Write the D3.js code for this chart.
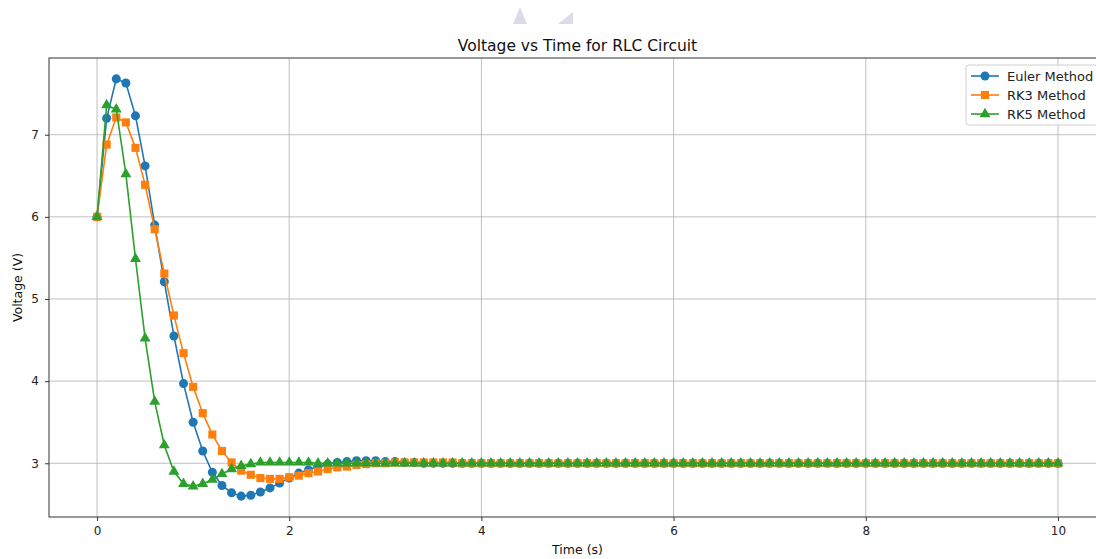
<!DOCTYPE html>
<html lang="en">
<head>
<meta charset="utf-8">
<script src="https://cdn.jsdelivr.net/npm/d3@7"></script>
<style>
  body { margin:0; padding:0; background:#fff; }
  svg { display:block; font-family:"DejaVu Sans", sans-serif; }
</style>
</head>
<body>
<div id="chart"></div>
<script>
// time steps 0 .. 10 s, dt = 0.1
var time = d3.range(0, 101).map(function(i){ return i / 10; });

var eulerV = [
  6.00,7.20,7.68,7.63,7.23,6.62,5.90,5.21,4.55,3.97,
  3.50,3.15,2.89,2.73,2.64,2.60,2.61,2.65,2.70,2.76,
  2.82,2.88,2.92,2.96,2.99,3.01,3.02,3.03,3.03,3.03,
  3.02,3.02,3.01,3.01,3.00,3.00,3.00,3.00,3.00,3.00,
  3.00,3.00,3.00,3.00,3.00,3.00,3.00,3.00,3.00,3.00,
  3.00,3.00,3.00,3.00,3.00,3.00,3.00,3.00,3.00,3.00,
  3.00,3.00,3.00,3.00,3.00,3.00,3.00,3.00,3.00,3.00,
  3.00,3.00,3.00,3.00,3.00,3.00,3.00,3.00,3.00,3.00,
  3.00,3.00,3.00,3.00,3.00,3.00,3.00,3.00,3.00,3.00,
  3.00,3.00,3.00,3.00,3.00,3.00,3.00,3.00,3.00,3.00,
  3.00
];
var rk3V = [
  6.00,6.88,7.21,7.15,6.84,6.39,5.85,5.31,4.80,4.34,
  3.93,3.61,3.35,3.15,3.01,2.91,2.86,2.82,2.81,2.81,
  2.83,2.85,2.88,2.90,2.93,2.95,2.96,2.98,2.99,3.00,
  3.00,3.01,3.01,3.01,3.01,3.01,3.01,3.01,3.00,3.00,
  3.00,3.00,3.00,3.00,3.00,3.00,3.00,3.00,3.00,3.00,
  3.00,3.00,3.00,3.00,3.00,3.00,3.00,3.00,3.00,3.00,
  3.00,3.00,3.00,3.00,3.00,3.00,3.00,3.00,3.00,3.00,
  3.00,3.00,3.00,3.00,3.00,3.00,3.00,3.00,3.00,3.00,
  3.00,3.00,3.00,3.00,3.00,3.00,3.00,3.00,3.00,3.00,
  3.00,3.00,3.00,3.00,3.00,3.00,3.00,3.00,3.00,3.00,
  3.00
];
var rk5V = [
  6.00,7.36,7.31,6.52,5.49,4.52,3.75,3.22,2.90,2.75,
  2.72,2.75,2.80,2.87,2.93,2.97,2.99,3.01,3.01,3.01,
  3.01,3.01,3.01,3.00,3.00,3.00,3.00,3.00,3.00,3.00,
  3.00,3.00,3.00,3.00,3.00,3.00,3.00,3.00,3.00,3.00,
  3.00,3.00,3.00,3.00,3.00,3.00,3.00,3.00,3.00,3.00,
  3.00,3.00,3.00,3.00,3.00,3.00,3.00,3.00,3.00,3.00,
  3.00,3.00,3.00,3.00,3.00,3.00,3.00,3.00,3.00,3.00,
  3.00,3.00,3.00,3.00,3.00,3.00,3.00,3.00,3.00,3.00,
  3.00,3.00,3.00,3.00,3.00,3.00,3.00,3.00,3.00,3.00,
  3.00,3.00,3.00,3.00,3.00,3.00,3.00,3.00,3.00,3.00,
  3.00
];

var seriesNames = ["Euler Method", "RK3 Method", "RK5 Method"];
var xTicks = [0, 2, 4, 6, 8, 10];
var yTicks = [3, 4, 5, 6, 7];

var W = 1096, H = 559;
var padL = 49, padT = 58, padB = 517, padR = 1106;

var series = [
  {name: seriesNames[0], values: eulerV, color: "#1f77b4", symbol: d3.symbolCircle, size: 64},
  {name: seriesNames[1], values: rk3V,   color: "#ff7f0e", symbol: d3.symbolSquare, size: 66},
  {name: seriesNames[2], values: rk5V,   color: "#2ca02c", symbol: d3.symbolTriangle, size: 52}
];

var svg = d3.select("#chart").append("svg")
  .attr("width", W).attr("height", H);

// faint logo at the top
svg.append("path").attr("d", "M513,24 L520,7 L527,24 Z").attr("fill", "#dcdce8");
svg.append("path").attr("d", "M558,24 L573,12 L573,24 Z").attr("fill", "#dcdce8");

var x = d3.scaleLinear().domain([-0.5, 10.5]).range([padL, padR]);
var yMin = 2.60 - 0.254, yMax = 7.68 + 0.254;
var y = d3.scaleLinear().domain([yMin, yMax]).range([padB, padT]);

// grid
var grid = svg.append("g").attr("stroke", "#b0b0b0").attr("stroke-width", 0.8);
grid.selectAll(".gx").data(xTicks).enter().append("line")
  .attr("x1", function(d){ return x(d); }).attr("x2", function(d){ return x(d); })
  .attr("y1", padT).attr("y2", padB);
grid.selectAll(".gy").data(yTicks).enter().append("line")
  .attr("x1", padL).attr("x2", padR)
  .attr("y1", function(d){ return y(d); }).attr("y2", function(d){ return y(d); });

// axes
var xAxis = svg.append("g").attr("transform", "translate(0," + padB + ")")
  .call(d3.axisBottom(x).tickValues(xTicks).tickSize(4).tickPadding(5).tickFormat(d3.format("d")));
var yAxis = svg.append("g").attr("transform", "translate(" + padL + ",0)")
  .call(d3.axisLeft(y).tickValues(yTicks).tickSize(4).tickPadding(6).tickFormat(d3.format("d")));
[xAxis, yAxis].forEach(function(a){
  a.select(".domain").remove();
  a.selectAll("line").attr("stroke", "#333");
  a.selectAll("text").attr("fill", "#222").style("font-size", "12px").style("font-family", "DejaVu Sans");
});

// spines
svg.append("rect").attr("x", padL).attr("y", padT)
  .attr("width", padR - padL).attr("height", padB - padT)
  .attr("fill", "none").attr("stroke", "#333").attr("stroke-width", 1);

// lines + markers
var line = d3.line()
  .x(function(d, i){ return x(time[i]); })
  .y(function(d){ return y(d); });

series.forEach(function(s){
  var g = svg.append("g");
  g.append("path").datum(s.values).attr("d", line)
    .attr("fill", "none").attr("stroke", s.color).attr("stroke-width", 1.6);
  g.selectAll("path.m").data(s.values).enter().append("path")
    .attr("class", "m")
    .attr("d", d3.symbol().type(s.symbol).size(s.size))
    .attr("transform", function(d, i){ return "translate(" + x(time[i]) + "," + y(d) + ")"; })
    .attr("fill", s.color);
});

// title and labels
svg.append("text").attr("x", (padL + padR) / 2).attr("y", 51)
  .attr("text-anchor", "middle").style("font-size", "15.5px").attr("fill", "#111")
  .text("Voltage vs Time for RLC Circuit");
svg.append("text").attr("x", (padL + padR) / 2).attr("y", 554)
  .attr("text-anchor", "middle").style("font-size", "12.5px").attr("fill", "#111")
  .text("Time (s)");
svg.append("text").attr("transform", "translate(22," + ((padT + padB) / 2) + ") rotate(-90)")
  .attr("text-anchor", "middle").style("font-size", "12.5px").attr("fill", "#111")
  .text("Voltage (V)");

// legend
var lg = svg.append("g").attr("transform", "translate(966,65)");
lg.append("rect").attr("width", 134).attr("height", 60).attr("rx", 3)
  .attr("fill", "#fff").attr("fill-opacity", 0.8).attr("stroke", "#d0d0d0");
series.forEach(function(s, i){
  var row = lg.append("g").attr("transform", "translate(0," + (11 + i * 19) + ")");
  row.append("line").attr("x1", 5).attr("x2", 33).attr("stroke", s.color).attr("stroke-width", 1.6);
  row.append("path").attr("d", d3.symbol().type(s.symbol).size(s.size))
    .attr("transform", "translate(19,0)").attr("fill", s.color);
  row.append("text").attr("x", 41).attr("y", 4.5).style("font-size", "13px").attr("fill", "#222")
    .text(s.name);
});
</script>
</body>
</html>
